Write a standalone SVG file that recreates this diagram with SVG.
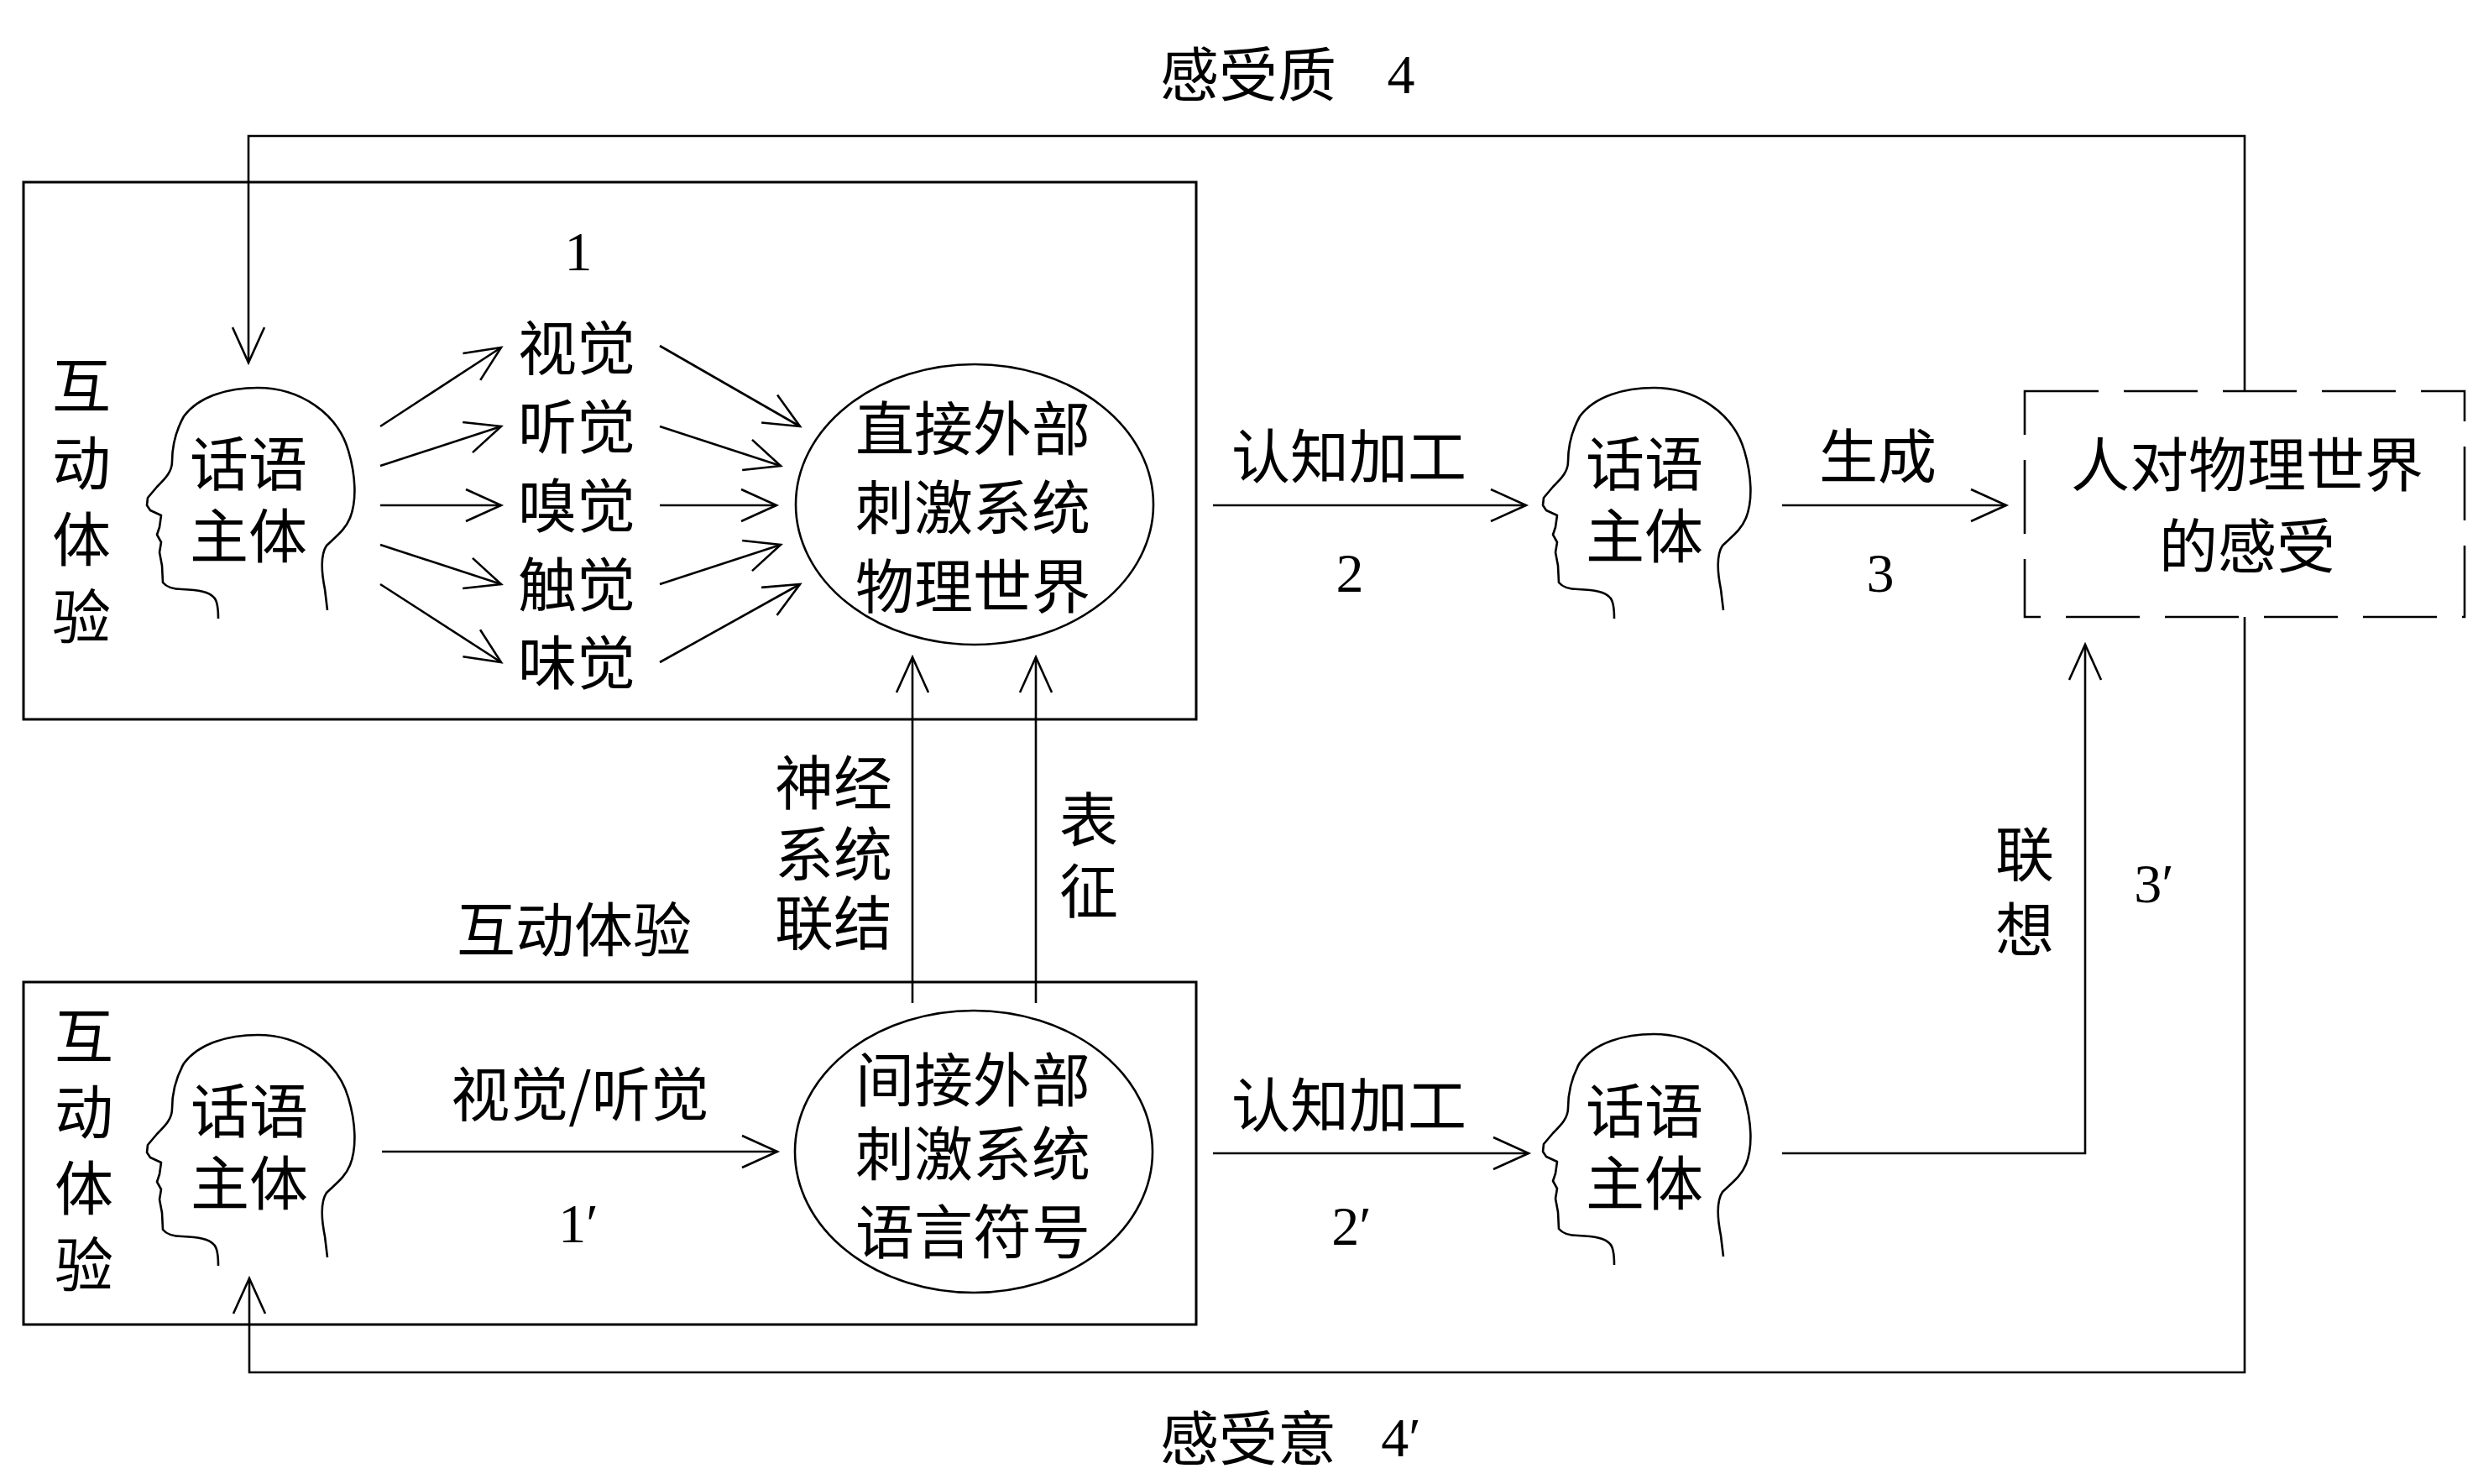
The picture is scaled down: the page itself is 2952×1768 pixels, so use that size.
<svg xmlns="http://www.w3.org/2000/svg" xmlns:xlink="http://www.w3.org/1999/xlink" width="2952" height="1768" viewBox="0 0 2952 1768">
<style>
.ln{stroke:#000;stroke-width:2.6;fill:none}
.bx{stroke:#000;stroke-width:3;fill:none}
.hd{stroke:#000;stroke-width:2.6;fill:none;stroke-linejoin:round}
.t{font-family:"Noto Sans CJK SC","Noto Sans CJK TC",sans-serif;font-size:70px;text-anchor:middle;fill:#000}
.n{font-family:"Liberation Serif","Noto Sans CJK SC",serif;font-size:66px;text-anchor:middle;fill:#000}
</style>
<defs>
<marker id="arr" markerUnits="userSpaceOnUse" markerWidth="60" markerHeight="50" viewBox="-50 -25 60 50" refX="0" refY="0" orient="auto">
<path d="M-42,-19 L0,0 L-42,19" fill="none" stroke="#000" stroke-width="2.6"/>
</marker>
<path id="head" d="M -47,275 C -47,262 -48,254 -52,250 C -58,243 -70,241 -90,240 C -100,240 -108,238 -113,232 L -114,212 L -117,196 L -115,184 L -120,175 L -117,166 L -115,152 L -128,146 L -132,140 L -131,131 L -120,118 C -110,108 -102,100 -102,88 C -102,70 -98,52 -88,34 C -70,10 -35,0 0,0 C 50,0 95,30 108,75 C 117,105 118,135 110,155 C 104,170 92,178 82,188 C 74,200 76,220 80,240 L 83,265"/>
</defs>
<rect x="0" y="0" width="2952" height="1768" fill="#fff"/>

<g id="box-top"><rect class="bx" x="28" y="217" width="1397" height="640"/></g>
<g id="box-bottom"><rect class="bx" x="28" y="1170" width="1397" height="408"/></g>

<g id="label-top-left">
<text class="t" x="97"><tspan x="97" y="486">互</tspan><tspan x="97" y="578">动</tspan><tspan x="97" y="669">体</tspan><tspan x="97" y="761">验</tspan></text>
</g>
<g id="label-bottom-left">
<text class="t" x="100"><tspan x="100" y="1261">互</tspan><tspan x="100" y="1351">动</tspan><tspan x="100" y="1442">体</tspan><tspan x="100" y="1533">验</tspan></text>
</g>

<g id="head1">
<use xlink:href="#head" href="#head" class="hd" transform="translate(307,462)"/>
<text class="t" x="296" y="579">话语</text>
<text class="t" x="296" y="665">主体</text>
</g>
<g id="head2">
<use xlink:href="#head" href="#head" class="hd" transform="translate(1970,462)"/>
<text class="t" x="1959" y="579">话语</text>
<text class="t" x="1959" y="665">主体</text>
</g>
<g id="head3">
<use xlink:href="#head" href="#head" class="hd" transform="translate(307,1233)"/>
<text class="t" x="297" y="1350">话语</text>
<text class="t" x="297" y="1436">主体</text>
</g>
<g id="head4">
<use xlink:href="#head" href="#head" class="hd" transform="translate(1970,1232)"/>
<text class="t" x="1959" y="1350">话语</text>
<text class="t" x="1959" y="1436">主体</text>
</g>

<g id="sense-label"><text class="n" x="689" y="322">1</text></g>
<g id="sense-visual"><text class="t" x="687" y="441">视觉</text></g>
<g id="sense-hearing"><text class="t" x="687" y="535">听觉</text></g>
<g id="sense-smell"><text class="t" x="687" y="629">嗅觉</text></g>
<g id="sense-touch"><text class="t" x="687" y="723">触觉</text></g>
<g id="sense-taste"><text class="t" x="687" y="816">味觉</text></g>

<g id="ellipse-direct">
<ellipse class="ln" cx="1161" cy="601" rx="213" ry="167"/>
<text class="t" x="1159" y="537">直接外部</text>
<text class="t" x="1159" y="631">刺激系统</text>
<text class="t" x="1159" y="725">物理世界</text>
</g>
<g id="ellipse-indirect">
<ellipse class="ln" cx="1160" cy="1372" rx="213" ry="168"/>
<text class="t" x="1159" y="1313">间接外部</text>
<text class="t" x="1159" y="1401">刺激系统</text>
<text class="t" x="1159" y="1494">语言符号</text>
</g>

<g id="feeling-box">
<rect class="ln" x="2412" y="466" width="524" height="269" stroke-dasharray="88 30"/>
<text class="t" x="2677" y="580">人对物理世界</text>
<text class="t" x="2677" y="677">的感受</text>
</g>

<g id="connectors">
<path class="ln" d="M2674,466 V162 H296 V432" marker-end="url(#arr)"/>
<path class="ln" d="M2674,735 V1635 H297 V1523" marker-end="url(#arr)"/>
<line class="ln" x1="453" y1="508" x2="597" y2="414" marker-end="url(#arr)"/>
<line class="ln" x1="453" y1="555" x2="597" y2="508" marker-end="url(#arr)"/>
<line class="ln" x1="453" y1="602" x2="597" y2="602" marker-end="url(#arr)"/>
<line class="ln" x1="453" y1="649" x2="597" y2="696" marker-end="url(#arr)"/>
<line class="ln" x1="453" y1="696" x2="597" y2="789" marker-end="url(#arr)"/>
<line class="ln" x1="786" y1="412" x2="953" y2="508" marker-end="url(#arr)"/>
<line class="ln" x1="786" y1="508" x2="930" y2="555" marker-end="url(#arr)"/>
<line class="ln" x1="786" y1="602" x2="925" y2="602" marker-end="url(#arr)"/>
<line class="ln" x1="786" y1="696" x2="930" y2="649" marker-end="url(#arr)"/>
<line class="ln" x1="786" y1="789" x2="953" y2="696" marker-end="url(#arr)"/>
<line class="ln" x1="1087" y1="1195" x2="1087" y2="783" marker-end="url(#arr)"/>
<line class="ln" x1="1234" y1="1195" x2="1234" y2="783" marker-end="url(#arr)"/>
<line class="ln" x1="1445" y1="602" x2="1818" y2="602" marker-end="url(#arr)"/>
<line class="ln" x1="2123" y1="602" x2="2390" y2="602" marker-end="url(#arr)"/>
<line class="ln" x1="455" y1="1372" x2="926" y2="1372" marker-end="url(#arr)"/>
<line class="ln" x1="1445" y1="1374" x2="1821" y2="1374" marker-end="url(#arr)"/>
<path class="ln" d="M2123,1374 H2484 V768" marker-end="url(#arr)"/>
</g>

<g id="labels">
<text class="t" x="1487" y="115">感受质</text>
<text class="n" x="1669" y="111">4</text>
<text class="t" x="1607" y="570">认知加工</text>
<text class="n" x="1608" y="705">2</text>
<text class="t" x="2237" y="570">生成</text>
<text class="n" x="2240" y="705">3</text>
<text class="t" x="993"><tspan x="993" y="959">神经</tspan><tspan x="993" y="1044">系统</tspan><tspan x="993" y="1126">联结</tspan></text>
<text class="t" x="1297"><tspan x="1297" y="1003">表</tspan><tspan x="1297" y="1088">征</tspan></text>
<text class="t" x="684" y="1134">互动体验</text>
<text class="t" x="691" y="1330">视觉/听觉</text>
<text class="n" x="689" y="1480">1′</text>
<text class="t" x="1607" y="1343">认知加工</text>
<text class="n" x="1610" y="1483">2′</text>
<text class="t" x="2412"><tspan x="2412" y="1044">联</tspan><tspan x="2412" y="1134">想</tspan></text>
<text class="n" x="2566" y="1075">3′</text>
<text class="t" x="1487" y="1740">感受意</text>
<text class="n" x="1669" y="1735">4′</text>
</g>
</svg>
